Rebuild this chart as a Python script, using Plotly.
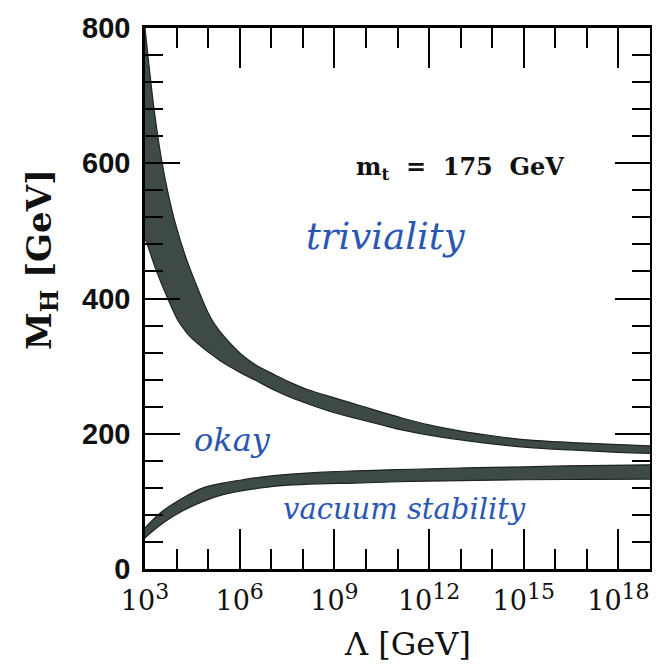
import plotly.graph_objects as go

# ---- data (log10 of Lambda in GeV, M_H in GeV) ----
triv_upper_log = [3.0, 3.13, 3.29, 3.51, 3.73, 3.98, 4.30, 4.68, 5.0, 5.22, 5.54, 6.04, 6.5, 7.12, 7.6,
                  8.17, 9.0, 9.75, 10.5, 11.2, 12.0, 13.0, 14.0, 15.1, 16.5, 18.0, 19.0]
triv_upper_m   = [800, 743, 679, 609, 556, 508, 460, 414, 379, 361, 342, 318, 302, 287, 276,
                  265, 253, 242.5, 232, 222.5, 213, 204, 197, 191, 187, 184, 182]
triv_lower_log = [3.0, 3.03, 3.35, 3.73, 4.05, 4.2, 4.36, 4.68, 5.0, 5.38, 6.04, 6.5, 7.12, 7.6,
                  8.17, 9.0, 9.75, 10.5, 11.2, 12.0, 13.0, 14.0, 15.1, 16.5, 18.0, 19.0]
triv_lower_m   = [487, 485, 442, 399, 367, 357, 347, 333, 321, 308, 290, 279, 264, 254,
                  244, 231, 222, 213, 205, 198, 191, 185, 180, 176, 172.5, 171]

vac_log     = [3.0, 3.57, 4.2, 4.84, 5.47, 6.1, 6.68, 7.53, 8.5, 9.65, 11.0, 12.0, 13.5, 15.0, 17.0, 19.0]
vac_upper_m = [61, 86, 105, 120, 127, 132, 136, 140, 143, 145, 147, 148, 150, 151, 153, 154]
vac_lower_m = [46, 68, 86, 100, 110, 116, 120, 124, 126, 127, 129, 130, 131, 132, 132.5, 133]

x_major_exp = [3, 6, 9, 12, 15, 18]
x_minor_exp = [4, 5, 7, 8, 10, 11, 13, 14, 16, 17, 19]
y_major = [0, 200, 400, 600, 800]
y_minor = [40, 80, 120, 160, 240, 280, 320, 360, 440, 480, 520, 560, 640, 680, 720, 760]

BAND = "#3e4a47"
EDGE = "#1e2422"
INK = "#2a56b4"

W, H = 660, 669
ML, MR, MT, MB = 137, 18, 20, 108
PW, PH = W - ML - MR, H - MT - MB


def band(up_log, up_m, lo_log, lo_m):
    line = dict(color=EDGE, width=1.2, shape="spline", smoothing=1.0)
    lower = go.Scatter(x=[10 ** v for v in lo_log], y=lo_m, mode="lines", line=line,
                       hoverinfo="skip", showlegend=False)
    upper = go.Scatter(x=[10 ** v for v in up_log], y=up_m, mode="lines", line=line,
                       fill="tonexty", fillcolor=BAND, hoverinfo="skip", showlegend=False)
    return [lower, upper]


fig = go.Figure()
fig.add_traces(band(triv_upper_log, triv_upper_m, triv_lower_log, triv_lower_m))
fig.add_traces(band(vac_log, vac_upper_m, vac_log, vac_lower_m))

sup = lambda e: f"10<sup><span style='font-size:22px'>{e}</span></sup>"

fig.update_layout(
    width=W, height=H,
    margin=dict(l=ML, r=MR, t=MT, b=MB),
    paper_bgcolor="white", plot_bgcolor="white",
    showlegend=False,
    xaxis=dict(
        type="log", range=[3, 19], automargin=False,
        tickmode="array", tickvals=[10 ** e for e in x_major_exp],
        ticktext=[sup(e) for e in x_major_exp],
        ticks="inside", ticklen=40, tickwidth=2, tickcolor="black",
        minor=dict(tickmode="array", tickvals=[10 ** e for e in x_minor_exp],
                   ticks="inside", ticklen=20, tickwidth=2, tickcolor="black"),
        showline=True, linecolor="black", linewidth=2.5, mirror="allticks",
        showgrid=False, zeroline=False,
        tickfont=dict(family="DejaVu Serif", size=27, color="#111"),
        ticklabelstandoff=6,
    ),
    yaxis=dict(
        range=[0, 800], automargin=False,
        tickmode="array", tickvals=y_major, ticktext=[str(v) for v in y_major],
        ticks="inside", ticklen=35, tickwidth=2, tickcolor="black",
        minor=dict(tickmode="array", tickvals=y_minor,
                   ticks="inside", ticklen=18, tickwidth=2, tickcolor="black"),
        showline=True, linecolor="black", linewidth=2.5, mirror="allticks",
        showgrid=False, zeroline=False,
        tickfont=dict(family="Liberation Sans", size=29, color="#111", weight="bold"),
        ticklabelstandoff=6,
    ),
)

annotations = [
    dict(text="Λ [GeV]", x=399, y=636, font=dict(family="DejaVu Serif", size=32, color="#111")),
    dict(text="<b>M<sub>H</sub> [GeV]</b>", x=33, y=252, textangle=-90,
         font=dict(family="DejaVu Serif", size=34, color="#111")),
    dict(text="<b>m<sub>t</sub>  =  175  GeV</b>", x=452, y=160,
         font=dict(family="DejaVu Serif", size=24, color="#111")),
    dict(text="<i>triviality</i>", x=378, y=228,
         font=dict(family="DejaVu Serif", size=37, color=INK)),
    dict(text="<i>okay</i>", x=224, y=432,
         font=dict(family="DejaVu Serif", size=32, color=INK)),
    dict(text="<i>vacuum stability</i>", x=396, y=501,
         font=dict(family="DejaVu Serif", size=29, color=INK)),
]
for a in annotations:
    px, py = a.pop("x"), a.pop("y")
    fig.add_annotation(x=(px - ML) / PW, y=(H - MB - py) / PH, xref="paper", yref="paper",
                       showarrow=False, xanchor="center", yanchor="middle", **a)

fig.write_html("out.html")
